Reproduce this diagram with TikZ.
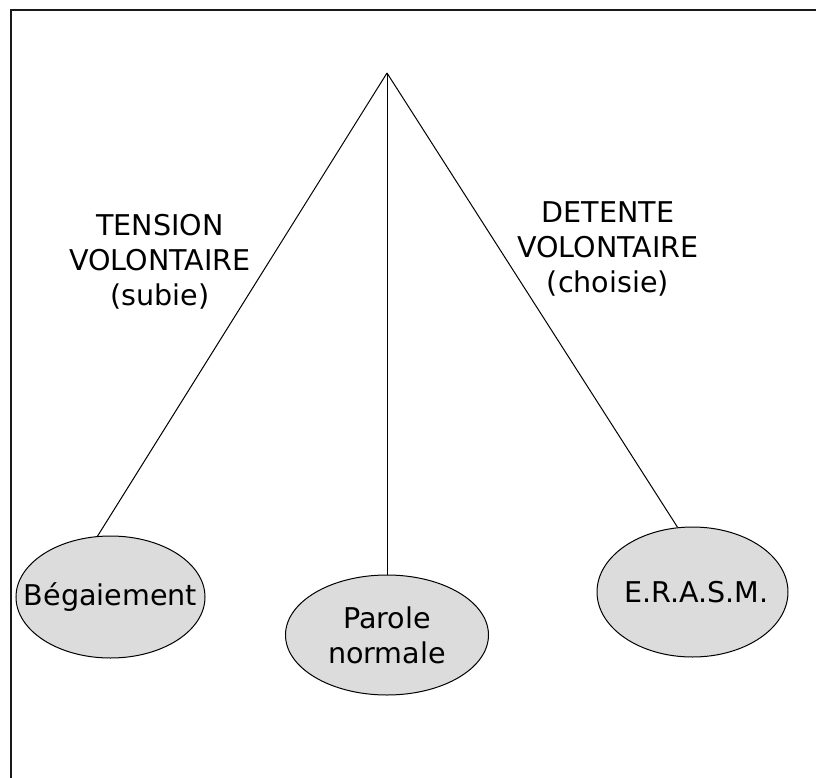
\documentclass[tikz,border=0pt]{standalone}
\usepackage{fontspec}
\setmainfont{DejaVu Sans}
\usetikzlibrary{shapes.geometric}
\definecolor{ellfill}{HTML}{DCDCDC}
\tikzset{
  lab/.style={align=center, font=\fontsize{14.3}{17.5}\selectfont, inner sep=0pt},
  oval/.style={ellipse, draw=black, line width=0.5pt, fill=ellfill, inner sep=0pt},
  conn/.style={line width=0.5pt}
}
\begin{document}
\begin{tikzpicture}[x=0.5pt,y=-0.5pt]
\useasboundingbox (0,0) rectangle (816,778);
% frame (only top and left edges are visible)
\draw[line width=1pt, black!90] (10.5,778) -- (10.5,9.5) -- (816,9.5);
\coordinate (apex) at (387,73);
\node[oval, minimum width=94.5pt, minimum height=61pt,
  label={[lab]center:Bégaiement}] (beg) at (110.5,597) {};
\node[oval, minimum width=101.5pt, minimum height=60pt,
  label={[lab]center:Parole\\normale}] (par) at (387,635) {};
\node[oval, minimum width=95.5pt, minimum height=65pt,
  label={[lab,xshift=2pt]center:E.R.A.S.M.}] (era) at (692.5,592) {};
\draw[conn] (apex) -- (beg.102);
\draw[conn] (apex) -- (par.north);
\draw[conn] (apex) -- (era.103);
\node[lab] (ten) at (160,262) {TENSION\\VOLONTAIRE\\(subie)};
\node[lab] (det) at (608,249) {DETENTE\\VOLONTAIRE\\(choisie)};
\end{tikzpicture}
\end{document}
